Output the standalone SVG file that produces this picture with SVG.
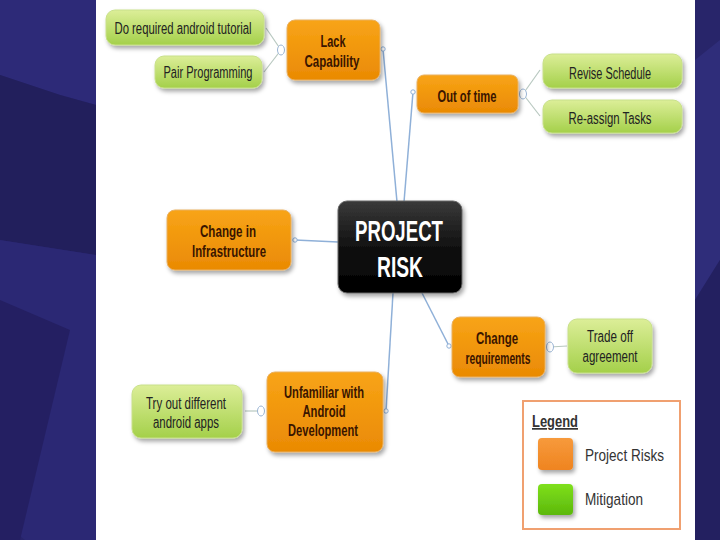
<svg xmlns="http://www.w3.org/2000/svg" width="720" height="540" viewBox="0 0 720 540">
<defs>
<linearGradient id="gOr" x1="0" y1="0" x2="0" y2="1"><stop offset="0" stop-color="#f8a416"/><stop offset="1" stop-color="#ea8a04"/></linearGradient>
<linearGradient id="gGr" x1="0" y1="0" x2="0" y2="1"><stop offset="0" stop-color="#dcee98"/><stop offset="1" stop-color="#a4d04a"/></linearGradient>
<linearGradient id="gBk" x1="0" y1="0" x2="0" y2="1"><stop offset="0" stop-color="#3a3a3a"/><stop offset="0.5" stop-color="#111"/><stop offset="1" stop-color="#000"/></linearGradient>
<linearGradient id="gLO" x1="0" y1="0" x2="0" y2="1"><stop offset="0" stop-color="#f79a3c"/><stop offset="1" stop-color="#ef8420"/></linearGradient>
<linearGradient id="gLG" x1="0" y1="0" x2="0" y2="1"><stop offset="0" stop-color="#7fe01c"/><stop offset="1" stop-color="#5cb80c"/></linearGradient>
<filter id="sh" x="-10%" y="-10%" width="130%" height="140%"><feDropShadow dx="2" dy="3" stdDeviation="2" flood-color="#000" flood-opacity="0.35"/></filter>
</defs>
<style>
.or{fill:url(#gOr);stroke:#e9b060;stroke-width:1;filter:url(#sh)}
.gr{fill:url(#gGr);stroke:#c8e08a;stroke-width:1;filter:url(#sh)}
.t{font-family:"Liberation Sans",Arial,sans-serif;font-size:16px;text-anchor:middle}
.to{fill:#3a1500;font-weight:bold}
.tg{fill:#222}
.ln{fill:none;stroke:#8fb0d8;stroke-width:1.5}
.lt{fill:none;stroke:#b8c8c0;stroke-width:1.2}
.dot{fill:#fff;stroke:#8fb0d8;stroke-width:1}
.col{fill:#fff;stroke:#9ab4d4;stroke-width:1}
</style>
<!-- background -->
<rect x="0" y="0" width="720" height="540" fill="#27246a"/>
<polygon points="0,0 96,0 96,105 60,95 0,75" fill="#2d2a78"/>
<polygon points="0,75 60,95 96,105 96,255 0,240" fill="#221f5c"/>
<polygon points="0,240 96,255 96,540 25,540 0,520" fill="#2b2874"/>
<polygon points="0,300 70,330 20,540 0,540" fill="#241f62"/>
<polygon points="695,0 720,0 720,540 695,540" fill="#28256a"/>
<polygon points="695,60 720,40 720,260 695,300" fill="#2f2d7a"/>
<polygon points="695,300 720,260 720,540 695,540" fill="#232060"/>
<rect x="96" y="0" width="599" height="540" fill="#fff"/>
<!-- connectors -->
<g id="connectors">
<path class="ln" d="M383,49 L397,202"/>
<path class="ln" d="M413,92 L404,202"/>
<path class="ln" d="M295,240 L338,242"/>
<path class="ln" d="M422,293 L449,346"/>
<path class="ln" d="M393,293 L386,411"/>
<path class="lt" d="M281,50 L266,28"/>
<path class="lt" d="M281,50 L264,72"/>
<path class="lt" d="M523,94 L540,70"/>
<path class="lt" d="M523,94 L540,116"/>
<path class="lt" d="M550,347 L567,346"/>
<path class="lt" d="M261,411 L245,411"/>
<circle class="dot" cx="383" cy="49" r="2.2"/>
<circle class="dot" cx="413" cy="92" r="2.2"/>
<circle class="dot" cx="295" cy="240" r="2.2"/>
<circle class="dot" cx="449" cy="346" r="2.2"/>
<circle class="dot" cx="386" cy="411" r="2.2"/>
<ellipse class="col" cx="281" cy="50" rx="3.5" ry="5"/>
<ellipse class="col" cx="523" cy="94" rx="3.5" ry="5"/>
<ellipse class="col" cx="550" cy="347" rx="3.5" ry="5"/>
<ellipse class="col" cx="261" cy="411" rx="3.5" ry="5"/>
</g>
<!-- nodes -->
<g id="center"><rect x="338" y="201" width="124" height="92" rx="9" fill="url(#gBk)" stroke="#666" filter="url(#sh)"/>
<text class="t" x="399" y="241" textLength="88" lengthAdjust="spacingAndGlyphs" style="font-size:29px;font-weight:bold;fill:#fff">PROJECT</text>
<text class="t" x="400" y="277" textLength="46" lengthAdjust="spacingAndGlyphs" style="font-size:29px;font-weight:bold;fill:#fff">RISK</text></g>
<g id="lack"><rect class="or" x="287" y="20" width="93" height="60" rx="8"/>
<text class="t to" x="333" y="47" textLength="25" lengthAdjust="spacingAndGlyphs">Lack</text><text class="t to" x="332" y="67" textLength="55" lengthAdjust="spacingAndGlyphs">Capability</text></g>
<g id="tutorial"><rect class="gr" x="106" y="10" width="158" height="35" rx="9"/>
<text class="t tg" x="183" y="34" textLength="137" lengthAdjust="spacingAndGlyphs">Do required android tutorial</text></g>
<g id="pair"><rect class="gr" x="155" y="56" width="107" height="32" rx="9"/>
<text class="t tg" x="208" y="78" textLength="89" lengthAdjust="spacingAndGlyphs">Pair Programming</text></g>
<g id="outoftime"><rect class="or" x="417" y="75" width="101" height="38" rx="7"/>
<text class="t to" x="467" y="102" textLength="59" lengthAdjust="spacingAndGlyphs">Out of time</text></g>
<g id="revise"><rect class="gr" x="543" y="54" width="139" height="34" rx="9"/>
<text class="t tg" x="610" y="79" textLength="82" lengthAdjust="spacingAndGlyphs">Revise Schedule</text></g>
<g id="reassign"><rect class="gr" x="543" y="100" width="139" height="33" rx="9"/>
<text class="t tg" x="610" y="124" textLength="83" lengthAdjust="spacingAndGlyphs">Re-assign Tasks</text></g>
<g id="infra"><rect class="or" x="167" y="210" width="124" height="60" rx="8"/>
<text class="t to" x="228" y="237" textLength="56" lengthAdjust="spacingAndGlyphs">Change in</text><text class="t to" x="229" y="257" textLength="74" lengthAdjust="spacingAndGlyphs">Infrastructure</text></g>
<g id="changereq"><rect class="or" x="452" y="317" width="93" height="60" rx="8"/>
<text class="t to" x="497" y="344" textLength="42" lengthAdjust="spacingAndGlyphs">Change</text><text class="t to" x="498" y="364" textLength="65" lengthAdjust="spacingAndGlyphs">requirements</text></g>
<g id="tradeoff"><rect class="gr" x="568" y="319" width="84" height="54" rx="9"/>
<text class="t tg" x="610" y="342" textLength="46" lengthAdjust="spacingAndGlyphs">Trade off</text><text class="t tg" x="610" y="362" textLength="55" lengthAdjust="spacingAndGlyphs">agreement</text></g>
<g id="unfamiliar"><rect class="or" x="267" y="372" width="116" height="80" rx="8"/>
<text class="t to" x="324" y="398" textLength="80" lengthAdjust="spacingAndGlyphs">Unfamiliar with</text><text class="t to" x="324" y="417" textLength="43" lengthAdjust="spacingAndGlyphs">Android</text><text class="t to" x="323" y="436" textLength="70" lengthAdjust="spacingAndGlyphs">Development</text></g>
<g id="tryout"><rect class="gr" x="132" y="385" width="110" height="53" rx="9"/>
<text class="t tg" x="186" y="409" textLength="80" lengthAdjust="spacingAndGlyphs">Try out different</text><text class="t tg" x="186" y="428" textLength="66" lengthAdjust="spacingAndGlyphs">android apps</text></g>
<!-- legend -->
<g id="legend"><rect x="523" y="401" width="157" height="128" fill="#fff" stroke="#f0a070" stroke-width="2"/>
<text class="t" x="532" y="427" textLength="46" lengthAdjust="spacingAndGlyphs" style="text-anchor:start;font-size:17px;font-weight:bold;fill:#333;text-decoration:underline">Legend</text>
<rect x="538" y="438" width="35" height="32" rx="4" fill="url(#gLO)" filter="url(#sh)"/>
<rect x="538" y="484" width="35" height="31" rx="4" fill="url(#gLG)" filter="url(#sh)"/>
<text class="t" x="585" y="461" textLength="79" lengthAdjust="spacingAndGlyphs" style="text-anchor:start;font-size:17px;fill:#333">Project Risks</text>
<text class="t" x="585" y="505" textLength="58" lengthAdjust="spacingAndGlyphs" style="text-anchor:start;font-size:17px;fill:#333">Mitigation</text></g>
</svg>
